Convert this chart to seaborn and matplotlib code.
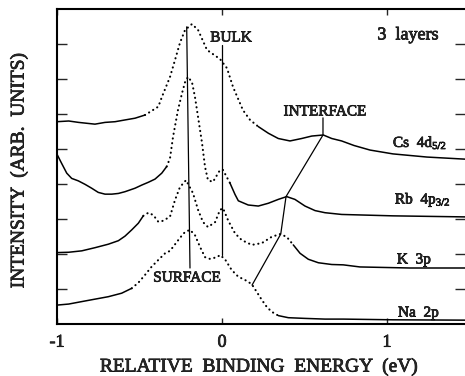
import numpy as np
import pandas as pd
import matplotlib
matplotlib.use("Agg")
import matplotlib.pyplot as plt
import matplotlib.patheffects as pe
import seaborn as sns

# ---------------- data ----------------
cs_x = [-1.0, -0.929, -0.869, -0.81, -0.77, -0.709, -0.648, -0.588, -0.527, -0.467, -0.426,
        -0.386, -0.364, -0.315, -0.285, -0.255, -0.224, -0.182, -0.145, -0.091, -0.012, 0.030,
        0.067, 0.127, 0.170, 0.220, 0.281, 0.341, 0.412, 0.483, 0.544, 0.614, 0.665, 0.725,
        0.80, 0.897, 1.036, 1.242, 1.473]
cs_y = [5.78, 5.80, 5.76, 5.73, 5.71, 5.76, 5.78, 5.83, 5.88, 5.97, 6.09,
        6.21, 6.49, 7.06, 7.54, 8.03, 8.40, 8.57, 8.40, 7.83, 7.57, 7.31,
        6.77, 6.11, 5.83, 5.64, 5.45, 5.30, 5.23, 5.30, 5.37, 5.40, 5.30, 5.23,
        5.10, 4.97, 4.86, 4.77, 4.71]

rb_x = [-1.0, -0.972, -0.941, -0.911, -0.871, -0.83, -0.79, -0.75, -0.709, -0.668, -0.628,
        -0.588, -0.527, -0.486, -0.446, -0.406, -0.365, -0.335, -0.315, -0.297, -0.267, -0.242,
        -0.224, -0.206, -0.182, -0.164, -0.145, -0.121, -0.103, -0.085, -0.055, -0.012, 0.006,
        0.048, 0.079, 0.099, 0.159, 0.220, 0.281, 0.341, 0.392, 0.442, 0.503, 0.564, 0.624,
        0.725, 1.036, 1.473]
rb_y = [4.85, 4.59, 4.31, 4.16, 4.09, 3.99, 3.88, 3.76, 3.71, 3.71, 3.73,
        3.78, 3.88, 3.97, 4.05, 4.14, 4.31, 4.50, 4.74, 5.34, 6.11, 6.60,
        6.91, 7.06, 6.91, 6.49, 5.91, 5.17, 4.49, 4.11, 4.06, 4.40, 4.40,
        4.03, 3.70, 3.52, 3.40, 3.37, 3.45, 3.56, 3.64, 3.56, 3.37, 3.24, 3.18,
        3.13, 3.09, 3.06]

k_x = [-1.0, -0.929, -0.85, -0.77, -0.689, -0.628, -0.588, -0.547, -0.507, -0.477, -0.446,
       -0.416, -0.386, -0.356, -0.315, -0.285, -0.255, -0.218, -0.176, -0.145, -0.115, -0.085,
       -0.042, -0.012, 0.006, 0.038, 0.079, 0.119, 0.180, 0.241, 0.301, 0.352, 0.392, 0.432,
       0.473, 0.523, 0.584, 0.665, 0.735, 0.836, 1.139, 1.473]
k_y = [2.04, 2.05, 2.09, 2.18, 2.28, 2.38, 2.51, 2.69, 2.88, 3.09, 3.18,
       3.11, 2.92, 2.95, 3.07, 3.54, 3.91, 4.11, 3.74, 3.26, 2.91, 2.77,
       2.91, 3.26, 3.31, 2.95, 2.59, 2.40, 2.26, 2.31, 2.49, 2.57, 2.49, 2.26,
       2.02, 1.85, 1.75, 1.70, 1.69, 1.63, 1.60, 1.60]

na_x = [-1.0, -0.929, -0.85, -0.77, -0.689, -0.608, -0.547, -0.507, -0.467, -0.426, -0.386,
        -0.345, -0.315, -0.297, -0.255, -0.224, -0.194, -0.164, -0.133, -0.103, -0.073, -0.030,
        -0.012, 0.018, 0.059, 0.099, 0.139, 0.180, 0.210, 0.241, 0.271, 0.301, 0.341, 0.402,
        0.503, 0.624, 0.735, 1.036, 1.473]
na_y = [0.54, 0.57, 0.64, 0.71, 0.78, 0.88, 1.02, 1.18, 1.40, 1.64, 1.83,
        2.02, 2.09, 2.20, 2.46, 2.63, 2.69, 2.54, 2.20, 1.91, 1.86, 1.91,
        1.97, 1.85, 1.54, 1.35, 1.26, 1.14, 0.92, 0.69, 0.49, 0.35, 0.24, 0.18,
        0.16, 0.14, 0.14, 0.12, 0.11]

curve_names = ["Cs  4d$_{\\mathrm{5/2}}$", "Rb  4p$_{\\mathrm{3/2}}$", "K  3p", "Na  2p"]

# guide lines marking the surface / bulk / interface components
surface_x = [-0.214, -0.194]
surface_y = [8.49, 1.60]
bulk_x = [0.0, 0.0]
bulk_y = [7.97, 1.97]
interface_x = [0.612, 0.612, 0.388, 0.356, 0.182]
interface_y = [5.89, 5.40, 3.64, 2.57, 1.11]

x_ticks = [-1, 0, 1]
x_tick_labels = ["-1", "0", "1"]
y_ticks = [1, 2, 3, 4, 5, 6, 7, 8]

# ---------------- style ----------------
sns.set_theme(style="ticks")
plt.rcParams["font.family"] = ["Liberation Serif", "DejaVu Serif"]
plt.rcParams["mathtext.fontset"] = "custom"
plt.rcParams["mathtext.rm"] = "Liberation Serif"
plt.rcParams["mathtext.it"] = "Liberation Serif:italic"
plt.rcParams["axes.unicode_minus"] = False

fig = plt.figure(figsize=(4.65, 3.76), dpi=100)
ax = fig.add_axes([57 / 465, 52 / 376, 408 / 465, 315 / 376])

heavy = [pe.withStroke(linewidth=0.5, foreground="black")]


def draw_curve(xs, ys, lo, hi):
    df = pd.DataFrame({"x": xs, "y": ys})
    xarr = np.asarray(xs)
    i_lo = int(np.argmax(xarr >= lo))
    i_hi = int(np.nonzero(xarr <= hi)[0][-1])
    parts = [(0, i_lo, "solid"), (i_lo, i_hi, "dot"), (i_hi, len(xs) - 1, "solid")]
    for a, b, st in parts:
        sub = df.iloc[a:b + 1]
        if len(sub) < 2:
            continue
        if st == "solid":
            sns.lineplot(data=sub, x="x", y="y", ax=ax, color="black", linewidth=1.1,
                         estimator=None, sort=False)
        else:
            sns.lineplot(data=sub, x="x", y="y", ax=ax, color="black", linewidth=1.5,
                         estimator=None, sort=False, linestyle=(0, (0.1, 2.2)),
                         dash_capstyle="round")


draw_curve(cs_x, cs_y, -0.50, 0.28)
draw_curve(rb_x, rb_y, -0.335, 0.05)
draw_curve(k_x, k_y, -0.50, 0.45)
draw_curve(na_x, na_y, -0.55, 0.40)

for gx, gy in [(surface_x, surface_y), (bulk_x, bulk_y), (interface_x, interface_y)]:
    sns.lineplot(x=gx, y=gy, ax=ax, color="black", linewidth=0.9, estimator=None, sort=False)

# annotations
ax.text(0.055, 8.17, "BULK", ha="center", va="center", fontsize=11, path_effects=heavy)
ax.text(-0.212, 1.31, "SURFACE", ha="center", va="center", fontsize=11, path_effects=heavy)
ax.text(0.624, 6.06, "INTERFACE", ha="center", va="center", fontsize=11, path_effects=heavy)
ax.text(1.127, 8.26, "3  layers", ha="center", va="center", fontsize=13, path_effects=heavy)

label_pos = [(1.036, 5.17), (1.048, 3.54), (1.06, 1.83), (1.067, 0.31)]
for name, (lx, ly) in zip(curve_names, label_pos):
    ax.text(lx, ly, name, ha="left", va="center", fontsize=11, path_effects=heavy)

# axes
ax.set_xlim(-1, 1.4727)
ax.set_ylim(0, 9)
ax.set_xticks(x_ticks)
ax.set_xticklabels(x_tick_labels, fontsize=13)
for t in ax.get_xticklabels():
    t.set_path_effects(heavy)
ax.set_yticks(y_ticks)
ax.set_yticklabels([])
ax.tick_params(axis="x", direction="in", length=4, width=1, top=True, pad=7)
ax.tick_params(axis="y", direction="in", length=7, width=1, right=True, left=True)
for side in ["left", "bottom", "top"]:
    ax.spines[side].set_linewidth(1.5)
    ax.spines[side].set_color("black")
ax.spines["right"].set_visible(False)

ax.set_xlabel("RELATIVE  BINDING  ENERGY  (eV)", fontsize=14, va="center", path_effects=heavy)
ax.xaxis.set_label_coords((260 - 57) / 408, (324 - 367) / 315)
ax.set_ylabel("INTENSITY  (ARB.  UNITS)", fontsize=14, va="center", path_effects=heavy)
ax.yaxis.set_label_coords((19 - 57) / 408, (324 - 170) / 315)

fig.savefig("out.png", dpi=100)
